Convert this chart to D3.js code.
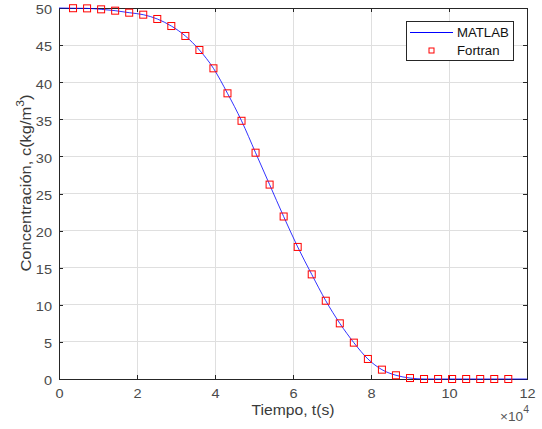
<!DOCTYPE html>
<html><head><meta charset="utf-8">
<script src="https://cdn.jsdelivr.net/npm/d3@7"></script>
<style>body{margin:0;background:#fff}svg{display:block}text{font-family:"Liberation Sans",Arial,sans-serif}</style>
</head><body>
<svg id="c" width="542" height="429"></svg>
<script>
// Data (time in s, concentration in kg/m^3)
const fortranT = [3600,7200,10800,14400,18000,21600,25200,28800,32400,36000,39600,43200,46800,50400,54000,57600,61200,64800,68400,72000,75600,79200,82800,86400,90000,93600,97200,100800,104400,108000,111600,115200];
const fortranC = [49.97,49.95,49.82,49.64,49.37,49.10,48.52,47.57,46.23,44.34,41.87,38.5,34.8,30.5,26.2,21.9,17.8,14.1,10.55,7.5,4.9,2.7,1.26,0.5,0.13,0,0,0,0,0,0,0];
const matlabT = [0,3600,7200,10800,14400,18000,21600,25200,28800,32400,36000,39600,43200,46800,50400,54000,57600,61200,64800,68400,72000,75600,79200,82800,86400,90000,93600,97200,100800,104400,108000,111600,115200,120000];
const matlabC = [50,49.97,49.95,49.82,49.64,49.37,49.10,48.52,47.57,46.23,44.34,41.87,38.5,34.8,30.5,26.2,21.9,17.8,14.1,10.55,7.5,4.9,2.7,1.26,0.5,0.13,0,0,0,0,0,0,0,0];
const xTicks = [0,20000,40000,60000,80000,100000,120000];
const xTickLabels = ["0","2","4","6","8","10","12"];
const yTicks = [0,5,10,15,20,25,30,35,40,45,50];
const seriesNames = ["MATLAB","Fortran"];

const L=59,R=527,T=8,B=379;
const svg=d3.select("#c");
const x=d3.scaleLinear().domain([0,120000]).range([L,R]);
const y=d3.scaleLinear().domain([0,50]).range([B,T]);
const axc="#262626";

// horizontally widen text about its anchor (reference font renders wider)
function widen(sel,sx){
  sel.each(function(){
    const t=d3.select(this);
    const ax=+t.attr("x")||0, ay=+t.attr("y")||0;
    const prev=t.attr("transform")||"";
    t.attr("transform",`${prev} translate(${ax},${ay}) scale(${sx},1) translate(${-ax},${-ay})`);
  });
}

// grid
const g=svg.append("g");
g.selectAll(".gx").data(xTicks).enter().append("line")
 .attr("x1",d=>x(d)).attr("x2",d=>x(d)).attr("y1",T).attr("y2",B)
 .attr("stroke","#dfdfdf").attr("stroke-width",1).attr("shape-rendering","crispEdges");
g.selectAll(".gy").data(yTicks).enter().append("line")
 .attr("x1",L).attr("x2",R).attr("y1",d=>y(d)).attr("y2",d=>y(d))
 .attr("stroke","#dfdfdf").attr("stroke-width",1).attr("shape-rendering","crispEdges");

// axes
const xAxis=d3.axisBottom(x).tickValues(xTicks).tickFormat((d,i)=>xTickLabels[i]).tickSizeInner(-4).tickSizeOuter(0).tickPadding(10);
const yAxis=d3.axisLeft(y).tickValues(yTicks).tickSizeInner(-4).tickSizeOuter(0).tickPadding(7);
const xTop=d3.axisTop(x).tickValues(xTicks).tickFormat("").tickSizeInner(-4).tickSizeOuter(0);
const yRight=d3.axisRight(y).tickValues(yTicks).tickFormat("").tickSizeInner(-4).tickSizeOuter(0);
function style(sel){
  sel.selectAll("path").attr("stroke",axc).attr("shape-rendering","crispEdges");
  sel.selectAll("line").attr("stroke",axc).attr("shape-rendering","crispEdges");
  sel.selectAll("text").attr("fill","#4a4a4a").style("font-size","13px").style("font-family","Liberation Sans, Arial, sans-serif");
}
const gx=svg.append("g").attr("transform",`translate(0,${B})`).call(xAxis).call(style);
const gy=svg.append("g").attr("transform",`translate(${L},0)`).call(yAxis).call(style);
gy.selectAll("text").attr("dy","0.45em");
widen(gx.selectAll("text"),1.12);
widen(gy.selectAll("text"),1.12);
svg.append("g").attr("transform",`translate(0,${T})`).call(xTop).call(style);
svg.append("g").attr("transform",`translate(${R},0)`).call(yRight).call(style);

// line
const line=d3.line().x((d,i)=>x(matlabT[i])).y(d=>y(d)).curve(d3.curveMonotoneX);
svg.append("path").datum(matlabC).attr("d",line).attr("fill","none").attr("stroke","#0000ff").attr("stroke-width",0.8);

// markers
const ms=7;
svg.selectAll(".m").data(fortranC).enter().append("rect")
 .attr("x",(d,i)=>x(fortranT[i])-ms/2).attr("y",d=>y(d)-ms/2)
 .attr("width",ms).attr("height",ms).attr("fill","none").attr("stroke","#ff0000").attr("stroke-width",1);

// labels
const xl=svg.append("text").attr("x",(L+R)/2).attr("y",415).attr("text-anchor","middle").attr("fill","#3a3a3a").style("font-size","14px").text("Tiempo, t(s)");
widen(xl,1.12);
const yl=svg.append("text").attr("x",0).attr("y",0).attr("transform",`translate(31,183) rotate(-90)`).attr("text-anchor","middle").attr("fill","#3a3a3a").style("font-size","15px");
yl.append("tspan").text("Concentración, c(kg/m");
yl.append("tspan").attr("dy",-7).style("font-size","11px").text("3");
yl.append("tspan").attr("dy",7).text(")");
widen(yl,1.1);
const ex=svg.append("text").attr("x",500).attr("y",421).attr("fill","#555").style("font-size","13px");
ex.append("tspan").text("×10");
ex.append("tspan").attr("dy",-8).style("font-size","10px").text("4");
widen(ex,1.05);

// legend
const lg=svg.append("g");
lg.append("rect").attr("x",406.5).attr("y",21.5).attr("width",107).attr("height",39).attr("fill","#fff").attr("stroke",axc).attr("stroke-width",1);
lg.append("line").attr("x1",410).attr("x2",453).attr("y1",32.5).attr("y2",32.5).attr("stroke","#0000ff").attr("stroke-width",1);
const t1=lg.append("text").attr("x",457).attr("y",37).attr("fill","#111").style("font-size","12px").text(seriesNames[0]);
lg.append("rect").attr("x",429).attr("y",48).attr("width",5).attr("height",5).attr("fill","none").attr("stroke","#ff0000").attr("stroke-width",1);
const t2=lg.append("text").attr("x",457).attr("y",55).attr("fill","#111").style("font-size","12px").text(seriesNames[1]);
widen(t1,1.1); widen(t2,1.1);
</script>
</body></html>
